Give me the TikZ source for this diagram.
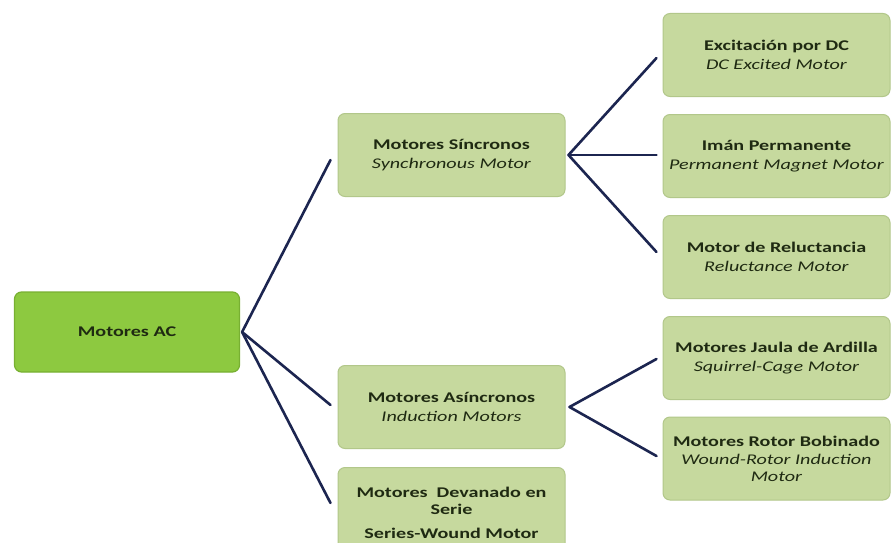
\documentclass[tikz,border=0pt]{standalone}
\usepackage{fontspec}
\setmainfont{Carlito}[FakeStretch=1.36]
\definecolor{rootfill}{HTML}{8DC940}
\definecolor{rootdraw}{HTML}{78B032}
\definecolor{boxfill}{HTML}{C6D99E}
\definecolor{boxdraw}{HTML}{B2C78A}
\definecolor{linecol}{HTML}{1C2550}
\definecolor{txt}{HTML}{1F2A12}
\tikzset{
  rootbox/.style={draw=rootdraw, line width=1.2pt, fill=rootfill, rounded corners=7pt,
    minimum width=225pt, minimum height=80pt, inner sep=0pt, align=center,
    text=txt, font=\fontsize{14.8}{18.5}\selectfont\bfseries},
  catbox/.style={draw=boxdraw, line width=1pt, fill=boxfill, rounded corners=7pt,
    minimum width=227pt, minimum height=83pt, inner sep=0pt, align=center,
    text=txt, font=\fontsize{14.8}{18.5}\selectfont},
  con/.style={draw=linecol, line width=2.6pt, line cap=round}
}
\newcommand{\twol}[2]{\textbf{#1}\\\textit{#2}}
\begin{document}
\begin{tikzpicture}[x=1pt,y=-1pt]
\clip (0,0) rectangle (894,543);
\fill[white] (0,0) rectangle (894,543);
% nodes
\node[rootbox] (root) at (127,332) {Motores AC};
\node[catbox] (sync) at (451.5,155) {\twol{Motores Síncronos}{Synchronous Motor}};
\node[catbox] (async) at (451.5,407) {\twol{Motores Asíncronos}{Induction Motors}};
\node[catbox, anchor=north, minimum height=90pt] (serie) at (451.5,467) {\bfseries Motores\ \ Devanado en\\[-1pt]\bfseries Serie\\[5pt]\bfseries Series-Wound Motor};
\node[catbox] (dc) at (776.5,55) {\twol{Excitación por DC}{DC Excited Motor}};
\node[catbox] (iman) at (776.5,156) {\twol{Imán Permanente}{Permanent Magnet Motor}};
\node[catbox] (rel) at (776.5,257) {\twol{Motor de Reluctancia}{Reluctance Motor}};
\node[catbox] (jaula) at (776.5,358) {\twol{Motores Jaula de Ardilla}{Squirrel-Cage Motor}};
\node[catbox] (rotor) at (776.5,458.5) {\textbf{Motores Rotor Bobinado}\\\textit{Wound-Rotor Induction}\\[-2pt]\textit{Motor}};
% connectors (yshift is in page units: negative = downwards)
\draw[con] ([xshift=2pt]root.east) -- ([xshift=-7pt,yshift=-5pt]sync.west);
\draw[con] ([xshift=2pt]root.east) -- ([xshift=-7pt,yshift=2pt]async.west);
\draw[con] ([xshift=2pt]root.east) -- ([xshift=-7pt,yshift=-36pt]serie.north west);
\draw[con] ([xshift=3pt]sync.east) -- ([xshift=-6pt,yshift=-3pt]dc.west);
\draw[con] ([xshift=3pt]sync.east) -- ([xshift=-6pt,yshift=1pt]iman.west);
\draw[con] ([xshift=3pt]sync.east) -- ([xshift=-6pt,yshift=5pt]rel.west);
\draw[con] ([xshift=4pt]async.east) -- ([xshift=-6pt,yshift=-1pt]jaula.west);
\draw[con] ([xshift=4pt]async.east) -- ([xshift=-6pt,yshift=2.5pt]rotor.west);
\end{tikzpicture}
\end{document}
